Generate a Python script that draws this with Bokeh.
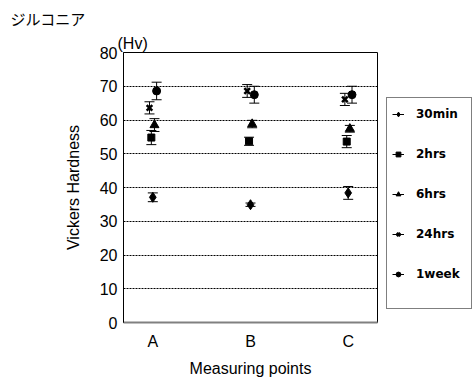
import numpy as np
from bokeh.plotting import figure
from bokeh.models import (ColumnDataSource, Range1d, FixedTicker, Whisker, TeeHead,
                          Legend, LegendItem, Title, CDSView, IndexFilter)
from bokeh.transform import dodge
from bokeh.embed import file_html
from bokeh.resources import INLINE

# ---- data ----
points = ["A", "B", "C"]
point_pos = [1, 2, 3]
series = ["30min", "2hrs", "6hrs", "24hrs", "1week"]
hv_30min = [37.1, 34.9, 38.4]
hv_2hrs = [54.8, 53.7, 53.6]
hv_6hrs = [58.5, 58.8, 57.4]
hv_24hrs = [63.6, 68.6, 66.1]
hv_1week = [68.6, 67.5, 67.5]
sd_30min = [1.3, 0.5, 1.9]
sd_2hrs = [2.1, 1.2, 1.8]
sd_6hrs = [1.9, 1.1, 1.0]
sd_24hrs = [1.8, 1.9, 1.8]
sd_1week = [2.6, 2.5, 2.5]
y_ticks = [0, 10, 20, 30, 40, 50, 60, 70, 80]

means = [hv_30min, hv_2hrs, hv_6hrs, hv_24hrs, hv_1week]
errs = [sd_30min, sd_2hrs, sd_6hrs, sd_24hrs, sd_1week]

# ---- styles ----
markers = ["diamond", "square", "triangle", "x", "circle"]
sizes = [10, 7, 9, 8, 8]
offsets = [0.0, -0.015, 0.017, -0.034, 0.039]

p = figure(frame_width=254, frame_height=270, x_range=Range1d(0.7, 3.3), y_range=Range1d(0, 80),
           output_backend="svg", toolbar_location=None, title=None,
           min_border_left=123, min_border_top=52, min_border_right=96, min_border_bottom=58)
p.background_fill_color = "white"
p.border_fill_color = "white"
p.outline_line_color = "black"
p.outline_line_width = 1
p.outline_line_alpha = 1

p.xgrid.visible = False
p.ygrid.grid_line_color = "black"
p.ygrid.grid_line_dash = "2 1"
p.ygrid.grid_line_width = 1

p.xaxis.ticker = FixedTicker(ticks=point_pos)
p.xaxis.major_label_overrides = {pos: lab for pos, lab in zip(point_pos, points)}
p.yaxis.ticker = FixedTicker(ticks=y_ticks)
p.xaxis.axis_label = "Measuring points"
p.yaxis.axis_label = "Vickers Hardness"
for ax in (p.xaxis[0], p.yaxis[0]):
    ax.major_tick_line_color = None
    ax.minor_tick_line_color = None
    ax.major_tick_out = 0
    ax.major_tick_in = 0
    ax.minor_tick_out = 0
    ax.minor_tick_in = 0
    ax.major_label_text_font = "Liberation Sans"
    ax.major_label_text_font_size = "16px"
    ax.major_label_text_color = "black"
    ax.axis_label_text_font = "Liberation Sans"
    ax.axis_label_text_font_size = "16px"
    ax.axis_label_text_font_style = "normal"
    ax.axis_label_text_color = "black"
p.yaxis.axis_line_color = "black"
p.yaxis.major_label_standoff = 6
p.yaxis.axis_label_standoff = 15
p.xaxis.axis_line_color = "#808080"
p.xaxis.axis_line_width = 2
p.xaxis.major_label_standoff = 10
p.xaxis.axis_label_standoff = 7

items = []
for name, m, e, mk, sz, off in zip(series, means, errs, markers, sizes, offsets):
    m = np.array(m, dtype=float)
    e = np.array(e, dtype=float)
    src = ColumnDataSource(dict(x=point_pos, y=m, upper=m + e, lower=m - e))
    w = Whisker(base=dodge("x", off), upper="upper", lower="lower", source=src,
                line_color="black", line_width=1,
                upper_head=TeeHead(size=10, line_color="black", line_width=1),
                lower_head=TeeHead(size=10, line_color="black", line_width=1))
    p.add_layout(w)
    # single-point view: draws nothing in the plot, but gives the legend its line
    ln = p.line(x="x", y="y", source=src, view=CDSView(filter=IndexFilter(indices=[0])),
                line_color="black", line_width=1)
    lw = 2.5 if mk == "x" else 1
    sc = p.scatter(x=dodge("x", off), y="y", source=src, marker=mk, size=sz,
                   fill_color="black", line_color="black", line_width=lw)
    items.append(LegendItem(label=name, renderers=[ln, sc]))

legend = Legend(items=items, location=(9, 13), orientation="vertical",
                border_line_color="black", border_line_width=1,
                background_fill_color="white", background_fill_alpha=1,
                glyph_width=12, glyph_height=22, label_height=22, spacing=18,
                padding=5, margin=0, label_standoff=12, label_width=50,
                label_text_font="DejaVu Sans", label_text_font_style="bold",
                label_text_font_size="12px", label_text_color="black",
                title=" ", title_location="below", title_text_font_size="10px",
                title_standoff=7)
p.add_layout(legend, "right")

p.add_layout(Title(text="(Hv)", align="left", offset=-6, standoff=2,
                   text_font="Liberation Sans", text_font_size="16px",
                   text_font_style="normal", text_color="black"), "above")
p.add_layout(Title(text="ジルコニア", align="left", offset=-113, standoff=5,
                   text_font="Noto Sans CJK JP", text_font_size="15px",
                   text_font_style="normal", text_color="black"), "above")

open("out.html", "w").write(file_html(p, INLINE))
